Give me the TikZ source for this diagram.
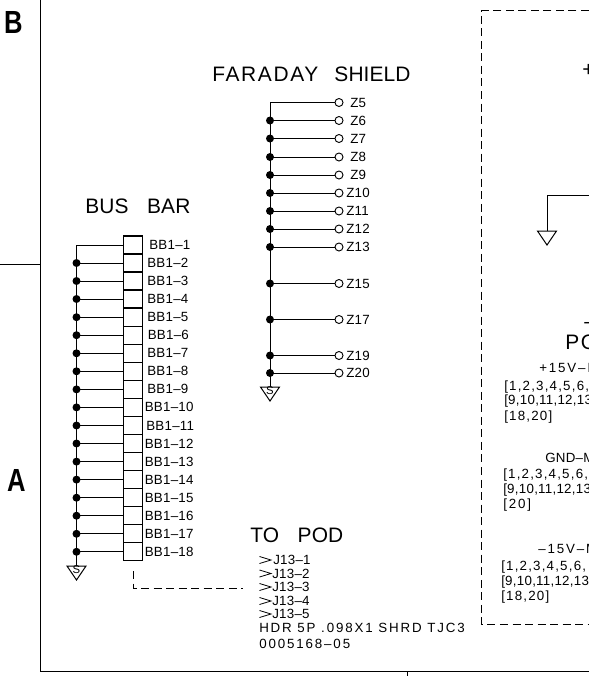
\documentclass[tikz,border=0pt]{standalone}
\usepackage{fontspec}
\setmainfont{Liberation Sans}
\newfontfamily\cadsmall[LetterSpace=2]{Liberation Sans}
\newfontfamily\cadwide[LetterSpace=8]{Liberation Sans}
\newfontfamily\cadtight[LetterSpace=0.5]{Liberation Sans}
\newfontfamily\cadlong[LetterSpace=14]{Liberation Sans}
\newfontfamily\cadbrk[LetterSpace=9]{Liberation Sans}
\tikzset{
  cadline/.style={draw=black,line width=0.75pt},
  smalltxt/.style={anchor=west,inner sep=0pt,font=\fontsize{10}{11}\cadsmall},
  longtxt/.style={anchor=west,inner sep=0pt,font=\fontsize{10}{11}\cadlong},
  brktxt/.style={anchor=west,inner sep=0pt,font=\fontsize{10}{11}\cadbrk},
  headtxt/.style={anchor=west,inner sep=0pt,font=\fontsize{15.7}{16}\cadwide},
  tighttxt/.style={anchor=west,inner sep=0pt,font=\fontsize{15.7}{16}\cadtight},
  bigtxt/.style={anchor=west,inner sep=0pt,xscale=0.8,font=\fontsize{24}{24}\selectfont\bfseries},
  busbox/.style={draw=black,line width=0.85pt,minimum width=14.25pt,minimum height=13.54pt,inner sep=0pt,outer sep=0pt},
  pin/.style={circle,draw=black,line width=0.7pt,minimum size=6pt,inner sep=0pt,outer sep=0pt},
  junction/.style={circle,fill=black,minimum size=6pt,inner sep=0pt,outer sep=0pt},
  dashline/.style={draw=black,line width=0.65pt,dash pattern=on 6pt off 3.4pt},
  gndtri/.pic={\draw[cadline] (-9.5,0) -- (9.5,0) -- (0,14) -- cycle;},
  shieldmark/.style={inner sep=0pt,font=\fontsize{8.5}{9}\selectfont},
  stick/.style={draw=black,line width=0.6pt}
}
\begin{document}
\begin{tikzpicture}[x=0.75pt,y=-0.75pt]
\useasboundingbox (0,0) rectangle (589,676);
\clip (0,0) rectangle (589,676);
% frame
\coordinate (ftop) at (40.5,0);
\coordinate (fcorner) at (40.5,671.5);
\coordinate (fright) at (589,671.5);
\coordinate (tickl) at (0,264.5);
\coordinate (tickr) at (40.5,264.5);
\coordinate (ticka) at (407,671.5);
\coordinate (tickb) at (407,676);
\draw[cadline,line width=1pt] (ftop) -- (fcorner) -- (fright);
\draw[cadline] (tickl) -- (tickr);
\draw[cadline] (ticka) -- (tickb);
\node[bigtxt] (zoneb) at (4,22.5) {B};
\node[bigtxt] (zonea) at (7,480) {A};
% Faraday shield
\node[headtxt] (fshield) at (212,74.5) {FARADAY\hspace{12pt}{\cadtight SHIELD}};
\coordinate (fbus) at (270,102.5);
\coordinate (fend) at (270,387);
\foreach \n/\y/\tx in {5/102.5/350,6/120.5/350,7/138.5/350,8/157/350,9/175/350,10/193/346,11/211/346,12/229/346,13/247/346,15/283.5/346,17/319.5/346,19/355.5/346,20/373/346}{
  \node[pin] (zc\n) at (339,\y) {};
  \node[smalltxt] (zt\n) at (\tx,\y) {Z\n};
  \draw[cadline] (zc\n.west) -- (fbus |- zc\n);
  \ifnum\n>5 \node[junction] (zj\n) at (fbus |- zc\n) {};\fi
}
\draw[cadline] (fbus) -- (fend);
\pic at (fend) {gndtri};
\node[shieldmark] (fs) at (270,391) {S};
% Bus bar
\node[tighttxt] (busbar) at (85,206.5) {BUS\hspace{14pt}BAR};
\coordinate (bbus) at (76.5,245);
\coordinate (bend) at (76.5,566);
\foreach \n/\y/\tx in {1/245/149,2/263/147,3/281/147,4/299/147,5/317.2/147,6/335.2/147.5,7/353.3/147,8/371.3/147,9/389.4/147,10/407.4/144.5,11/425.5/146,12/443.5/144.5,13/461.6/144.5,14/479.6/144.5,15/497.7/144.5,16/515.7/144.5,17/533.8/144.5,18/551.8/144.5}{
  \node[busbox] (bb\n) at (133,\y) {};
  \node[smalltxt] (bt\n) at (\tx,\y) {BB1–\n};
  \draw[cadline] (bb\n.west) -- (bbus |- bb\n);
  \ifnum\n>1 \node[junction] (bj\n) at (bbus |- bb\n) {};\fi
}
\draw[cadline] (bbus) -- (bend);
\pic at (bend) {gndtri};
\node[shieldmark] (bs) at (76.5,570) {S};
% to pod
\node[tighttxt] (topod) at (250,535.5) {TO\hspace{14pt}POD};
\coordinate (dstart) at (133,571);
\coordinate (dcorner) at (133,588);
\coordinate (dend) at (243,588);
\draw[dashline] (dstart) -- (dcorner) -- (dend);
\foreach \n/\y/\tx in {1/560/273,2/573.5/272,3/587/272,4/601/272,5/614/272}{
  \node[smalltxt] (jt\n) at (\tx,\y) {J13–\n};
  \coordinate (ja\n) at (259.5,\y-3.5);
  \coordinate (jb\n) at (271,\y);
  \coordinate (jc\n) at (259.5,\y+3.5);
  \draw[stick] (ja\n) -- (jb\n) -- (jc\n);
}
\node[longtxt] (hdr) at (259,628) {HDR 5P .098X1 SHRD TJC3};
\node[longtxt] (pn) at (259,644) {0005168–05};
% power box
\coordinate (pbl) at (481.5,624);
\coordinate (ptl) at (481.5,10.5);
\coordinate (ptr) at (589,10.5);
\coordinate (pbr) at (589,624);
\draw[dashline] (ptr) -- (ptl) -- (pbl) -- (pbr);
\node[headtxt] (pt1) at (582,70) {+};
\node[headtxt] (pt2) at (584,325) {–};
\node[headtxt] (pt3) at (565,342.5) {PO};
\coordinate (gwire) at (589,195.5);
\coordinate (gcorner) at (547,195.5);
\coordinate (gtip) at (547,231);
\draw[cadline] (gwire) -- (gcorner) -- (gtip);
\pic at (gtip) {gndtri};
\node[longtxt] (p1) at (539,368) {+15V–M};
\node[brktxt] (p2) at (504,387) {[1,2,3,4,5,6,};
\node[smalltxt] (p3) at (504,401.5) {[9,10,11,12,13};
\node[brktxt] (p4) at (504,417) {[18,20]};
\node[smalltxt] (p5) at (545,458) {GND–M};
\node[brktxt] (p6) at (503,475) {[1,2,3,4,5,6,};
\node[smalltxt] (p7) at (503,490) {[9,10,11,12,13};
\node[longtxt] (p8) at (503,505) {[20]};
\node[longtxt] (p9) at (538,549) {–15V–M};
\node[brktxt] (p10) at (501,567) {[1,2,3,4,5,6,};
\node[smalltxt] (p11) at (501,582) {[9,10,11,12,13};
\node[brktxt] (p12) at (501,597) {[18,20]};
\end{tikzpicture}
\end{document}
